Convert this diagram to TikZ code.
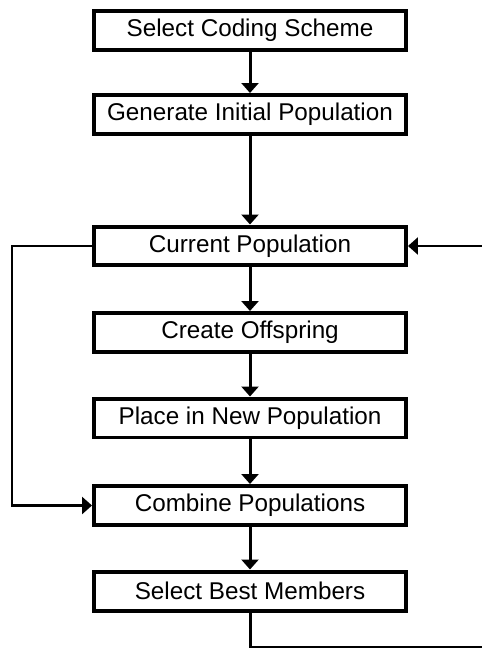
\documentclass[tikz,border=0pt]{standalone}
\usepackage{fontspec}
\setmainfont{Liberation Sans}
\usetikzlibrary{arrows.meta}

\begin{document}
\begin{tikzpicture}[x=0.02cm,y=-0.02cm,
    stage/.style={draw,line width=0.08cm,minimum width=6.24cm,minimum height=0.78cm,inner sep=0pt,font=\fontsize{13.8}{16}\selectfont},
    flow/.style={line width=0.06cm,-{Triangle[width=0.34cm,length=0.2cm]}}]
      \useasboundingbox (0,0) rectangle (481,648);
      \node[stage] (coding) at (250,30.5) {Select Coding Scheme};
      \node[stage] (initpop) at (250,114.5) {Generate Initial Population};
      \node[stage] (current) at (250,246) {Current Population};
      \node[stage] (offspring) at (250,332.5) {Create Offspring};
      \node[stage] (newpop) at (250,418) {Place in New Population};
      \node[stage] (combine) at (250,505.5) {Combine Populations};
      \node[stage] (best) at (250,591) {Select Best Members};
      \draw[flow] (coding) -- (initpop);
      \draw[flow] (initpop) -- (current);
      \draw[flow] (current) -- (offspring);
      \draw[flow] (offspring) -- (newpop);
      \draw[flow] (newpop) -- (combine);
      \draw[flow] (combine) -- (best);
      % loops
      \draw[flow] (current.west) -- (12,246) |- (combine.west);
      \draw[flow] (best.south) |- (495,647) |- (current.east);
    \end{tikzpicture}
\end{document}
